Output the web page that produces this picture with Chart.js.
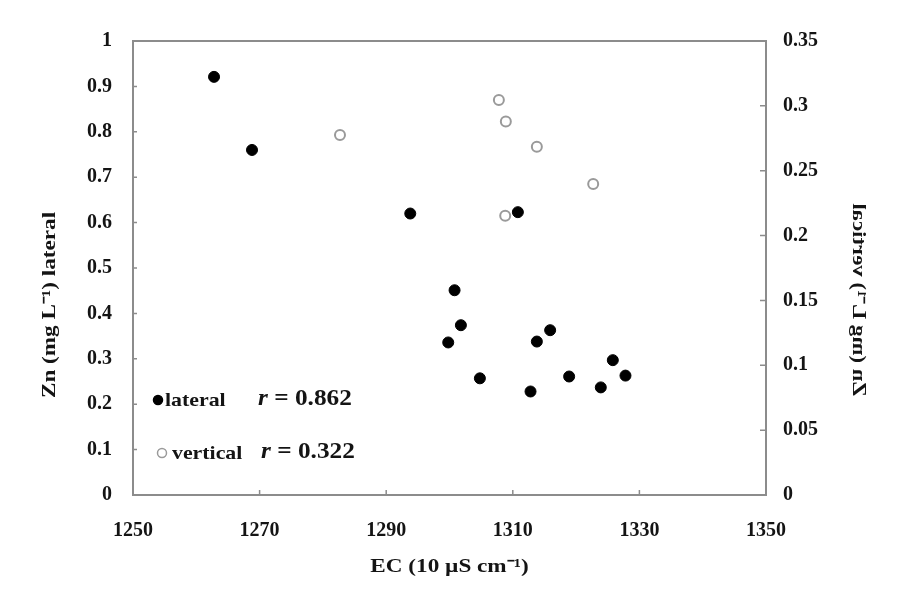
<!DOCTYPE html>
<html lang="en">
<head>
<meta charset="UTF-8">
<title>Zn vs EC</title>
<style>
  html, body { margin: 0; padding: 0; background: #fff; }
  #wrap { width: 897px; height: 605px; }
</style>
</head>
<body>
<div id="wrap"><canvas id="chart" width="897" height="605"></canvas></div>

<script src="https://cdn.jsdelivr.net/npm/chart.js"></script>
<script>
  // values
  const lateralEC = [1262.8, 1268.8, 1293.8, 1310.8, 1300.8, 1301.8, 1299.8, 1304.8, 1312.8, 1313.8, 1315.9, 1318.9, 1323.9, 1325.8, 1327.8];
  const lateralZn = [0.921, 0.760, 0.620, 0.623, 0.451, 0.374, 0.336, 0.257, 0.228, 0.338, 0.363, 0.261, 0.237, 0.297, 0.263];
  const verticalEC = [1282.7, 1307.8, 1308.9, 1313.8, 1308.8, 1322.7];
  const verticalZn = [0.2775, 0.3045, 0.288, 0.2685, 0.2153, 0.2398];

  const ecTicks = [1250, 1270, 1290, 1310, 1330, 1350];
  const lateralTicks = [0, 0.1, 0.2, 0.3, 0.4, 0.5, 0.6, 0.7, 0.8, 0.9, 1];
  const verticalTicks = [0, 0.05, 0.1, 0.15, 0.2, 0.25, 0.3, 0.35];

  const seriesNames = ['lateral', 'vertical'];
  const rValues = ['0.862', '0.322'];

  const xTitle = 'EC (10 \u00b5S cm\u207b\u00b9)';
  const yTitle = 'Zn (mg L\u207b\u00b9) lateral';
  const y2Title = 'Zn (mg L\u207b\u00b9) vertical';

  const SERIF = '"Liberation Serif", "Times New Roman", serif';
  const AXIS = '#8c8c8c';
  const INK = '#141414';

  function pts(xs, ys) {
    return xs.map((x, i) => ({ x: x, y: ys[i] }));
  }
  function fmt(v) { return String(+v.toFixed(2)); }
  function setTicks(list) {
    return function (s) { s.ticks = list.map(v => ({ value: v })); };
  }

  // text drawn a bit wider than the font, like the source figure
  function wideText(ctx, str, x, y, sx) {
    ctx.save();
    ctx.translate(x, y);
    ctx.scale(sx, 1);
    ctx.fillText(str, 0, 0);
    ctx.restore();
  }

  // inward tick marks, frame, titles and the inset legend
  const decor = {
    id: 'decor',
    afterDraw(chart) {
      const ctx = chart.ctx;
      const a = chart.chartArea;
      const sx = chart.scales.x, sy = chart.scales.y, sy2 = chart.scales.y2;
      ctx.save();
      ctx.strokeStyle = AXIS;
      ctx.lineWidth = 2;
      ctx.strokeRect(a.left, a.top, a.right - a.left, a.bottom - a.top);
      ctx.lineWidth = 1.5;
      ctx.beginPath();
      ecTicks.forEach(v => {
        const px = sx.getPixelForValue(v);
        ctx.moveTo(px, a.bottom); ctx.lineTo(px, a.bottom - 5);
      });
      lateralTicks.forEach(v => {
        const py = sy.getPixelForValue(v);
        ctx.moveTo(a.left - 1, py); ctx.lineTo(a.left + 4, py);
      });
      verticalTicks.forEach(v => {
        const py = sy2.getPixelForValue(v);
        ctx.moveTo(a.right, py); ctx.lineTo(a.right - 6, py);
      });
      ctx.stroke();

      ctx.fillStyle = INK;
      ctx.font = 'bold 19px ' + SERIF;
      ctx.textAlign = 'center';
      ctx.textBaseline = 'middle';
      wideText(ctx, xTitle, (a.left + a.right) / 2, 567, 1.22);

      ctx.save();
      ctx.translate(50, 305);
      ctx.rotate(-Math.PI / 2);
      wideText(ctx, yTitle, 0, 0, 1.22);
      ctx.restore();

      // right title is mirrored in the source figure
      ctx.save();
      ctx.translate(858, 300);
      ctx.rotate(-Math.PI / 2);
      ctx.scale(1, -1);
      wideText(ctx, y2Title, 0, 0, 1.2);
      ctx.restore();

      // legend with correlation coefficients
      const rows = [
        { y: 400, fill: '#000', stroke: '#000', mx: 158, tx: 165, rx: 258 },
        { y: 453, fill: '#fff', stroke: '#9a9a9a', mx: 162, tx: 172, rx: 261 }
      ];
      rows.forEach((r, i) => {
        ctx.beginPath();
        ctx.arc(r.mx, r.y, 4.5, 0, Math.PI * 2);
        ctx.fillStyle = r.fill;
        ctx.fill();
        ctx.lineWidth = 1.5;
        ctx.strokeStyle = r.stroke;
        ctx.stroke();

        ctx.fillStyle = INK;
        ctx.textAlign = 'left';
        ctx.textBaseline = 'alphabetic';
        ctx.font = 'bold 19px ' + SERIF;
        wideText(ctx, seriesNames[i], r.tx, r.y + 6, 1.15);

        ctx.font = 'italic bold 23px ' + SERIF;
        wideText(ctx, 'r', r.rx, r.y + 5, 1.1);
        const w = ctx.measureText('r').width * 1.1;
        ctx.font = 'bold 23px ' + SERIF;
        wideText(ctx, ' = ' + rValues[i], r.rx + w, r.y + 5, 1.1);
      });
      ctx.restore();
    }
  };

  const tickFont = { family: SERIF, size: 20, weight: 'bold' };

  new Chart(document.getElementById('chart'), {
    type: 'scatter',
    data: {
      datasets: [
        {
          label: seriesNames[0],
          data: pts(lateralEC, lateralZn),
          yAxisID: 'y',
          pointRadius: 5.5,
          pointBackgroundColor: '#000',
          pointBorderColor: '#000',
          pointBorderWidth: 1
        },
        {
          label: seriesNames[1],
          data: pts(verticalEC, verticalZn),
          yAxisID: 'y2',
          pointRadius: 5,
          pointBackgroundColor: '#fff',
          pointBorderColor: '#9a9a9a',
          pointBorderWidth: 2
        }
      ]
    },
    options: {
      responsive: false,
      devicePixelRatio: 1,
      animation: false,
      layout: { padding: { top: 41, left: 0, right: 0, bottom: 0 } },
      plugins: { legend: { display: false }, tooltip: { enabled: false } },
      scales: {
        x: {
          type: 'linear', min: 1250, max: 1350,
          afterBuildTicks: setTicks(ecTicks),
          afterFit(s) { s.height = 110; },
          grid: { display: false, drawTicks: false },
          border: { display: false },
          ticks: { font: tickFont, color: INK, padding: 24, maxRotation: 0, callback: v => String(v) }
        },
        y: {
          position: 'left', min: 0, max: 1,
          afterBuildTicks: setTicks(lateralTicks),
          afterFit(s) { s.width = 133; },
          grid: { display: false, drawTicks: false },
          border: { display: false },
          ticks: { font: tickFont, color: INK, padding: 21, callback: fmt }
        },
        y2: {
          position: 'right', min: 0, max: 0.35,
          afterBuildTicks: setTicks(verticalTicks),
          afterFit(s) { s.width = 131; },
          grid: { display: false, drawTicks: false },
          border: { display: false },
          ticks: { font: tickFont, color: INK, padding: 17, callback: fmt }
        }
      }
    },
    plugins: [decor]
  });
</script>
</body>
</html>
